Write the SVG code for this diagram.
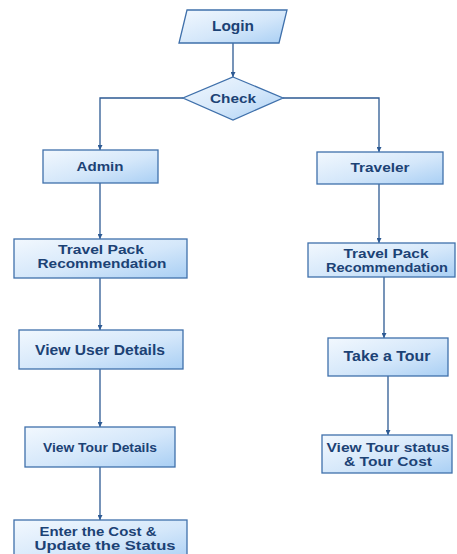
<svg xmlns="http://www.w3.org/2000/svg" width="457" height="554" viewBox="0 0 457 554">
  <defs>
    <linearGradient id="boxFill" x1="0" y1="0" x2="1" y2="1">
      <stop offset="0" stop-color="#f2f8fe"/>
      <stop offset="0.55" stop-color="#d4e7fa"/>
      <stop offset="1" stop-color="#a9cff4"/>
    </linearGradient>
    <marker id="arrow" viewBox="0 0 10 10" refX="10" refY="5" markerWidth="5" markerHeight="5" orient="auto" markerUnits="userSpaceOnUse">
      <path d="M0,0 L10,5 L0,10 Z" fill="#2d5a93"/>
    </marker>
  </defs>
  <style>
    .box { fill: url(#boxFill); stroke: #3f70ab; stroke-width: 1.3; }
    .lbl { font-family: "Liberation Sans", Arial, sans-serif; font-weight: bold; font-size: 13px; fill: #1c4275; text-anchor: middle; }
    .big { font-size: 14px; }
    .two { font-size: 12px; }
    .conn { fill: none; stroke: #2d5a93; stroke-width: 1.3; }
  </style>

  <rect width="457" height="554" fill="#ffffff"/>

  <g id="connectors">
    <path class="conn" d="M233,43 V77" marker-end="url(#arrow)"/>
    <path class="conn" d="M183,98 H100 V150" marker-end="url(#arrow)"/>
    <path class="conn" d="M283,98 H379 V152" marker-end="url(#arrow)"/>
    <path class="conn" d="M100,183 V239" marker-end="url(#arrow)"/>
    <path class="conn" d="M100,278 V330" marker-end="url(#arrow)"/>
    <path class="conn" d="M100,369 V427" marker-end="url(#arrow)"/>
    <path class="conn" d="M100,467 V520" marker-end="url(#arrow)"/>
    <path class="conn" d="M379,184 V243" marker-end="url(#arrow)"/>
    <path class="conn" d="M384,277 V338" marker-end="url(#arrow)"/>
    <path class="conn" d="M388,376 V435" marker-end="url(#arrow)"/>
  </g>

  <g id="login">
    <polygon class="box" points="187,10 287,10 279,43 179,43"/>
    <text class="lbl big" x="233" y="31" textLength="42" lengthAdjust="spacingAndGlyphs">Login</text>
  </g>

  <g id="check">
    <polygon class="box" points="233,77 283,98 233,120 183,98"/>
    <text class="lbl" x="233" y="103" textLength="46" lengthAdjust="spacingAndGlyphs">Check</text>
  </g>

  <g id="admin">
    <rect class="box" x="43" y="150" width="115" height="33"/>
    <text class="lbl" x="100" y="171" textLength="47" lengthAdjust="spacingAndGlyphs">Admin</text>
  </g>

  <g id="admin-recommendation">
    <rect class="box" x="14" y="239" width="173" height="39"/>
    <text class="lbl two" x="101" y="254" textLength="86" lengthAdjust="spacingAndGlyphs">Travel Pack</text>
    <text class="lbl two" x="102" y="268" textLength="129" lengthAdjust="spacingAndGlyphs">Recommendation</text>
  </g>

  <g id="view-user-details">
    <rect class="box" x="19" y="330" width="164" height="39"/>
    <text class="lbl big" x="100" y="355" textLength="130" lengthAdjust="spacingAndGlyphs">View User Details</text>
  </g>

  <g id="view-tour-details">
    <rect class="box" x="25" y="427" width="150" height="40"/>
    <text class="lbl" x="100" y="452" textLength="114" lengthAdjust="spacingAndGlyphs">View Tour Details</text>
  </g>

  <g id="enter-cost">
    <rect class="box" x="14" y="520" width="173" height="44"/>
    <text class="lbl two" x="98" y="536" textLength="117" lengthAdjust="spacingAndGlyphs">Enter the Cost &amp;</text>
    <text class="lbl two" x="105" y="550" textLength="141" lengthAdjust="spacingAndGlyphs">Update the Status</text>
  </g>

  <g id="traveler">
    <rect class="box" x="317" y="152" width="126" height="32"/>
    <text class="lbl" x="380" y="172" textLength="59" lengthAdjust="spacingAndGlyphs">Traveler</text>
  </g>

  <g id="traveler-recommendation">
    <rect class="box" x="308" y="243" width="147" height="34"/>
    <text class="lbl two" x="386" y="258" textLength="85" lengthAdjust="spacingAndGlyphs">Travel Pack</text>
    <text class="lbl two" x="387" y="272" textLength="122" lengthAdjust="spacingAndGlyphs">Recommendation</text>
  </g>

  <g id="take-tour">
    <rect class="box" x="328" y="338" width="120" height="38"/>
    <text class="lbl big" x="387" y="361" textLength="87" lengthAdjust="spacingAndGlyphs">Take a Tour</text>
  </g>

  <g id="view-tour-status">
    <rect class="box" x="322" y="435" width="130" height="38"/>
    <text class="lbl two" x="388" y="452" textLength="123" lengthAdjust="spacingAndGlyphs">View Tour status</text>
    <text class="lbl two" x="388" y="466" textLength="88" lengthAdjust="spacingAndGlyphs">&amp; Tour Cost</text>
  </g>
</svg>
